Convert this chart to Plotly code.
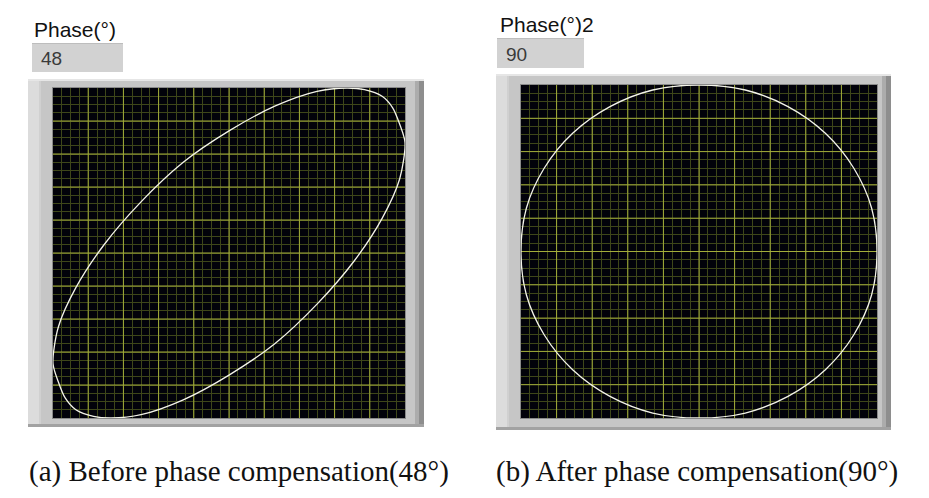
import plotly.graph_objects as go

W, H = 929, 498

# ---- data (normalised scope units, -1..1) ----
before_x = [0.00, 0.26, 0.50, 0.67, 0.77, 0.87, 0.93, 0.97, 1.00, 0.97, 0.87, 0.71, 0.50, 0.26,
            0.00, -0.26, -0.50, -0.67, -0.77, -0.87, -0.93, -0.97, -1.00, -0.97, -0.87, -0.71, -0.50, -0.26, 0.00]
before_y = [0.74, 0.89, 0.98, 1.00, 0.99, 0.95, 0.88, 0.78, 0.67, 0.45, 0.21, -0.05, -0.31, -0.55,
            -0.74, -0.89, -0.98, -1.00, -0.99, -0.95, -0.88, -0.78, -0.67, -0.45, -0.21, 0.05, 0.31, 0.55, 0.74]

after_x = [0.00, 0.26, 0.50, 0.71, 0.87, 0.97, 1.00, 0.97, 0.87, 0.71, 0.50, 0.26,
           0.00, -0.26, -0.50, -0.71, -0.87, -0.97, -1.00, -0.97, -0.87, -0.71, -0.50, -0.26, 0.00]
after_y = [1.00, 0.97, 0.87, 0.71, 0.50, 0.26, 0.00, -0.26, -0.50, -0.71, -0.87, -0.97,
           -1.00, -0.97, -0.87, -0.71, -0.50, -0.26, 0.00, 0.26, 0.50, 0.71, 0.87, 0.97, 1.00]

major_ticks = [-0.8, -0.6, -0.4, -0.2, 0.0, 0.2, 0.4, 0.6, 0.8]

labels = ["Phase(°)", "Phase(°)2"]
values = ["48", "90"]
captions = ["(a) Before phase compensation(48°)", "(b) After phase compensation(90°)"]

# ---- geometry (pixels) ----
plots = [dict(x0=53, x1=405, y0=88, y1=418), dict(x0=521, x1=877, y0=85, y1=418)]
frames = [dict(x0=28, x1=424, y0=79, y1=427), dict(x0=496, x1=891, y0=74, y1=430)]
lab_pos = [(32, 30), (498, 24)]
box_pos = [dict(x0=32, x1=123, y0=43, y1=72), dict(x0=497, x1=584, y0=38, y1=68)]
cap_pos = [(239, 471), (697, 471)]
smooth = [0.8, 1.0]

MINOR_COL = "#3e4619"
MAJOR_COL = "#a3ad3a"


def px(x):
    return x / W


def py(y):
    return 1 - y / H


fig = go.Figure()
series = [(before_x, before_y), (after_x, after_y)]
for i, (xs, ys) in enumerate(series):
    n = "" if i == 0 else str(i + 1)
    fig.add_trace(go.Scatter(x=xs, y=ys, mode="lines",
                             line=dict(color="#f4f4ea", width=1.3, shape="spline", smoothing=smooth[i]),
                             xaxis="x" + n, yaxis="y" + n, showlegend=False, hoverinfo="skip"))

shapes = []
annotations = []
axes = {}
for i in range(2):
    p = plots[i]
    f = frames[i]
    n = "" if i == 0 else str(i + 1)
    for ax in ("xaxis", "yaxis"):
        axd = dict(range=[-1, 1], dtick=0.05, tick0=-1, showgrid=True, gridcolor=MINOR_COL, gridwidth=1,
                   showticklabels=False, ticks="", zeroline=False, showline=False, fixedrange=True)
        if ax == "xaxis":
            axd.update(domain=[px(p["x0"]), px(p["x1"])], anchor="y" + n)
        else:
            axd.update(domain=[py(p["y1"]), py(p["y0"])], anchor="x" + n)
        axes[ax + n] = axd

    def rect(x0, y0, x1, y1, color):
        shapes.append(dict(type="rect", xref="paper", yref="paper", x0=px(x0), x1=px(x1), y0=py(y1), y1=py(y0),
                           fillcolor=color, line=dict(width=0), layer="below"))

    # frame body
    rect(f["x0"], f["y0"], f["x1"], f["y1"], "#c6c6c6")
    rect(f["x0"], f["y0"], f["x0"] + 11, f["y1"], "#dcdcdc")
    rect(f["x0"] + 11, f["y0"], f["x0"] + 13, f["y1"], "#d0d0d0")
    rect(f["x1"] - 9, f["y0"], f["x1"] - 5, f["y1"], "#acacac")
    rect(f["x1"] - 5, f["y0"], f["x1"], f["y1"], "#8e8e8e")
    rect(f["x0"], f["y0"], f["x1"], f["y0"] + 2, "#e6e6e6")
    rect(f["x0"], f["y1"] - 3, f["x1"], f["y1"], "#a2a2a2")
    rect(p["x0"] - 1, p["y0"] - 1, p["x1"] + 1, p["y1"] + 1, "#8a8a8a")
    rect(p["x0"], p["y0"], p["x1"], p["y1"], "#02020a")

    # major grid lines (between grid and traces)
    for t in major_ticks:
        shapes.append(dict(type="line", xref="x" + n, yref="y" + n, x0=t, x1=t, y0=-1, y1=1,
                           line=dict(color=MAJOR_COL, width=1), layer="between"))
        shapes.append(dict(type="line", xref="x" + n, yref="y" + n, x0=-1, x1=1, y0=t, y1=t,
                           line=dict(color=MAJOR_COL, width=1), layer="between"))

    # numeric indicator box
    b = box_pos[i]
    rect(b["x0"], b["y0"], b["x1"], b["y1"], "#d2d2d2")
    rect(b["x0"], b["y0"], b["x1"], b["y0"] + 1, "#bdbdbd")

    lx, ly = lab_pos[i]
    annotations.append(dict(text=labels[i], x=px(lx), y=py(ly), xref="paper", yref="paper", xanchor="left",
                            yanchor="middle", showarrow=False,
                            font=dict(family="Liberation Sans, Arial, sans-serif", size=21, color="#111111")))
    annotations.append(dict(text=values[i], x=px(b["x0"] + 7), y=py((b["y0"] + b["y1"]) / 2 + 1), xref="paper",
                            yref="paper", xanchor="left", yanchor="middle", showarrow=False,
                            font=dict(family="Liberation Sans, Arial, sans-serif", size=19, color="#3a3a3a")))
    cx, cy = cap_pos[i]
    annotations.append(dict(text=captions[i], x=px(cx), y=py(cy), xref="paper", yref="paper", xanchor="center",
                            yanchor="middle", showarrow=False,
                            font=dict(family="Liberation Serif, Times New Roman, serif", size=29, color="#111111")))

fig.update_layout(width=W, height=H, margin=dict(l=0, r=0, t=0, b=0), paper_bgcolor="white",
                  plot_bgcolor="#02020a", shapes=shapes, annotations=annotations, showlegend=False, **axes)

fig.write_html("out.html")
